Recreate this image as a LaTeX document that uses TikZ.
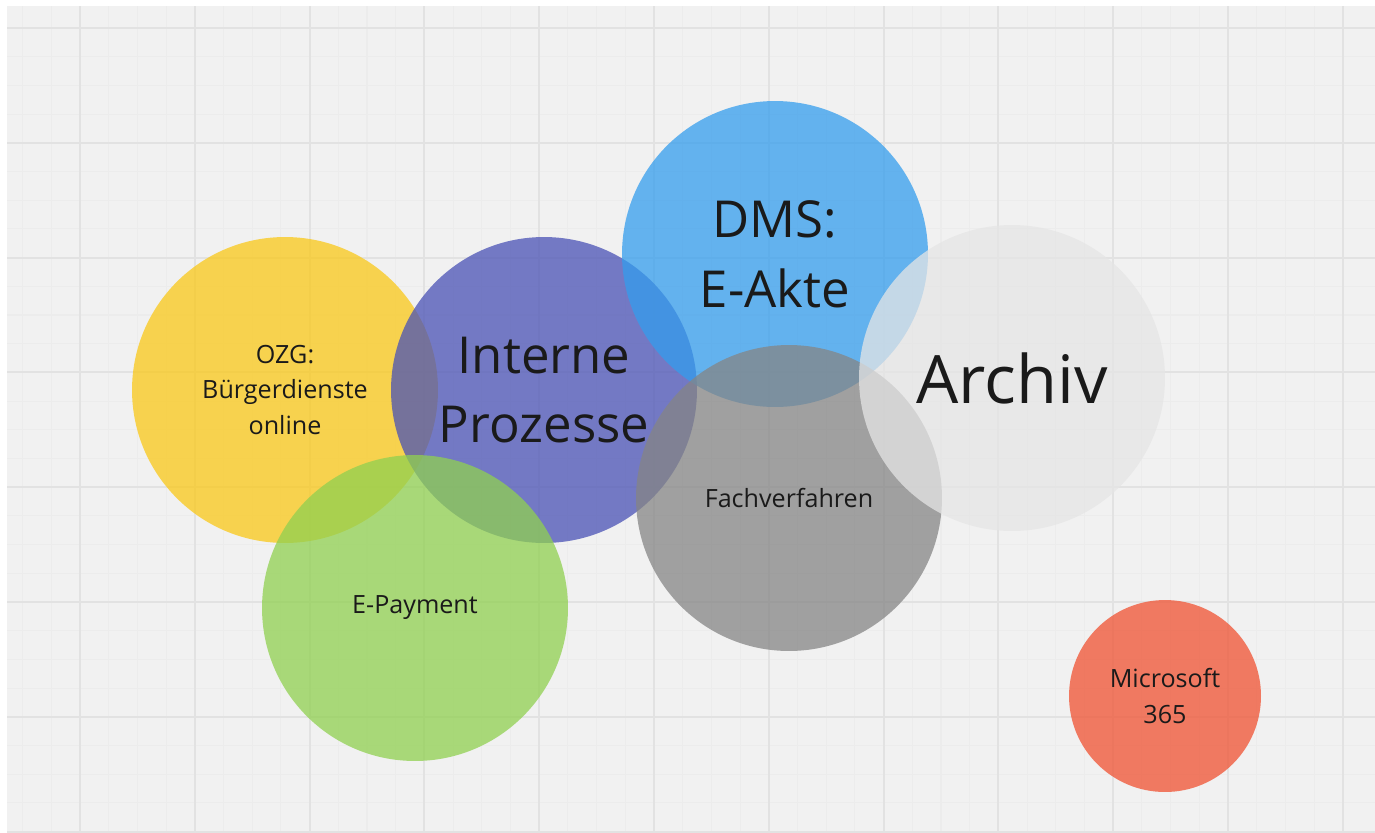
\documentclass[tikz,border=0pt]{standalone}
\usepackage{fontspec}
\setmainfont{Open Sans}

\definecolor{canvas}{HTML}{F1F1F1}
\definecolor{gridminor}{HTML}{ECECEC}
\definecolor{gridmajor}{HTML}{E2E2E2}
\definecolor{ink}{HTML}{1A1A1A}
\definecolor{ozgyellow}{HTML}{FAC818}
\definecolor{intpurple}{HTML}{4A52B5}
\definecolor{dmsblue}{HTML}{349DED}
\definecolor{fachgray}{HTML}{858585}
\definecolor{archgray}{HTML}{E5E5E5}
\definecolor{paygreen}{HTML}{90D050}
\definecolor{msred}{HTML}{F05232}

\begin{document}
\begin{tikzpicture}[x=0.02cm,y=-0.02cm,
  bubble/.style={circle,inner sep=0pt,minimum size=6.12cm,fill opacity=0.75,
    text opacity=1,text=ink,align=center},
  bigtext/.style={font=\fontsize{38}{52}\selectfont},
  midtext/.style={font=\fontsize{29}{39.7}\selectfont},
  smalltext/.style={font=\fontsize{14.3}{20.4}\selectfont}]

\useasboundingbox [fill=white] (0,0) rectangle (1375,832);
\fill [canvas] (7,6) rectangle (1375,832);

% grid
\begin{scope}
\clip (7,6) rectangle (1375,832);
\foreach \k in {-2,...,44}
  \draw [gridminor,line width=0.6pt] ({80+28.7*\k},6) -- ({80+28.7*\k},832);
\foreach \k in {0,...,28}
  \draw [gridminor,line width=0.6pt] (7,{28+28.7*\k}) -- (1375,{28+28.7*\k});
\foreach \k in {0,...,11}
  \draw [gridmajor,line width=1.1pt] ({80+114.8*\k},6) -- ({80+114.8*\k},832);
\foreach \k in {0,...,7}
  \draw [gridmajor,line width=1.1pt] (7,{28+114.8*\k}) -- (1375,{28+114.8*\k});
\end{scope}

% bubbles
\node [bubble,fill=ozgyellow,smalltext] (ozg) at (285,390) {OZG:\\Bürgerdienste\\online};
\node [bubble,fill=intpurple,midtext] (intern) at (544,390) {Interne\\Prozesse};
\node [bubble,fill=paygreen,smalltext] (epay) at (415,608) {E-Payment};
\node [bubble,fill=dmsblue,midtext] (dms) at (775,254) {DMS:\\E-Akte};
\node [bubble,fill=fachgray,smalltext] (fach) at (789,498) {Fachverfahren};
\node [bubble,fill=archgray,bigtext] (archiv) at (1012,378) {Archiv};
\node [bubble,fill=msred,smalltext,minimum size=3.84cm] (ms) at (1165,696) {Microsoft\\365};

\end{tikzpicture}
\end{document}
